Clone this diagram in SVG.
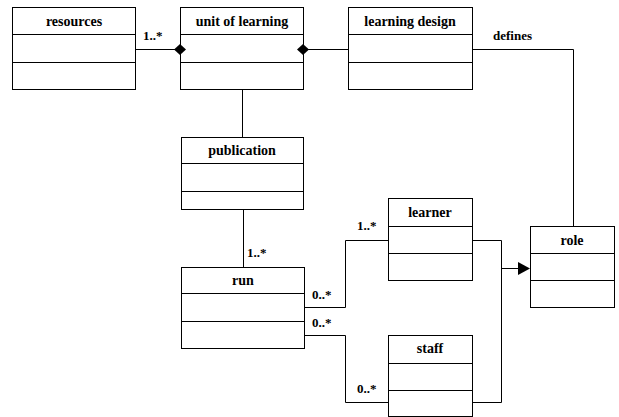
<svg xmlns="http://www.w3.org/2000/svg" width="619" height="417" viewBox="0 0 619 417" font-family="'Liberation Serif', 'Times New Roman', Times, serif">
<style>
.box{fill:#fff;stroke:#000;stroke-width:1}
.div{stroke:#000;stroke-width:1}
.t{font-weight:bold;font-size:14px;text-anchor:middle;fill:#000}
.l{font-weight:bold;font-size:13px;fill:#000}
.c{fill:none;stroke:#000;stroke-width:1}
</style>
<rect width="619" height="417" fill="#fff"/>
<g id="resources">
<rect class="box" x="12.5" y="7.5" width="123" height="82"/>
<path class="div" d="M12.5 34.5H135.5M12.5 62.5H135.5"/>
<text class="t" x="74" y="26">resources</text>
</g>
<g id="unit-of-learning">
<rect class="box" x="180.5" y="7.5" width="123" height="82"/>
<path class="div" d="M180.5 34.5H303.5M180.5 62.5H303.5"/>
<text class="t" x="242" y="26">unit of learning</text>
</g>
<g id="learning-design">
<rect class="box" x="348.5" y="7.5" width="124" height="82"/>
<path class="div" d="M348.5 34.5H472.5M348.5 62.5H472.5"/>
<text class="t" x="410" y="26">learning design</text>
</g>
<g id="publication">
<rect class="box" x="181.5" y="137.5" width="122" height="72"/>
<path class="div" d="M181.5 163.5H303.5M181.5 191.5H303.5"/>
<text class="t" x="242" y="155">publication</text>
</g>
<g id="run">
<rect class="box" x="181.5" y="267.5" width="123" height="81"/>
<path class="div" d="M181.5 293.5H304.5M181.5 321.5H304.5"/>
<text class="t" x="243" y="285">run</text>
</g>
<g id="learner">
<rect class="box" x="388.5" y="198.5" width="84" height="82"/>
<path class="div" d="M388.5 226.5H472.5M388.5 253.5H472.5"/>
<text class="t" x="430" y="217">learner</text>
</g>
<g id="role">
<rect class="box" x="530.5" y="226.5" width="84" height="81"/>
<path class="div" d="M530.5 253.5H614.5M530.5 280.5H614.5"/>
<text class="t" x="572" y="245">role</text>
</g>
<g id="staff">
<rect class="box" x="388.5" y="335.5" width="84" height="81"/>
<path class="div" d="M388.5 363.5H472.5M388.5 390.5H472.5"/>
<text class="t" x="430" y="353">staff</text>
</g>
<g id="connectors">
<path class="c" d="M135.5 49.5H180"/>
<path class="c" d="M303 49.5H348"/>
<path class="c" d="M472 49.5H573.5V226"/>
<path class="c" d="M242.5 89V137"/>
<path class="c" d="M243.5 209V267"/>
<path class="c" d="M304 307.5H345.5V240.5H388"/>
<path class="c" d="M304 335.5H345.5V402.5H388"/>
<path class="c" d="M472 240.5H501.5V402.5H472"/>
<path class="c" d="M501.5 268.5H520"/>
<polygon points="174,49.5 180,44 186,49.5 180,55" fill="#000"/>
<polygon points="297,49.5 303,44 309,49.5 303,55" fill="#000"/>
<polygon points="518,262 530,268.5 518,275" fill="#000"/>
<text class="l" x="143" y="40">1..*</text>
<text class="l" x="493" y="40">defines</text>
<text class="l" x="247" y="257">1..*</text>
<text class="l" x="312" y="299">0..*</text>
<text class="l" x="312" y="327">0..*</text>
<text class="l" x="357" y="230">1..*</text>
<text class="l" x="357" y="393">0..*</text>
</g>
</svg>
